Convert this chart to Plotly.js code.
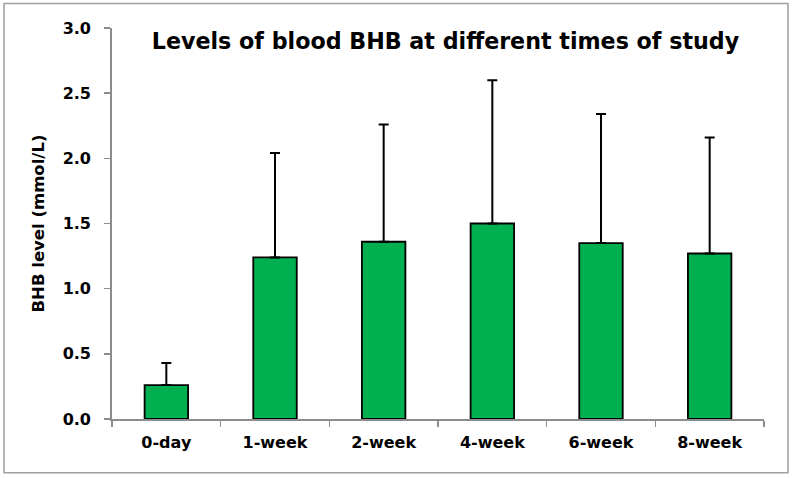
<!DOCTYPE html>
<html>
<head>
<meta charset="utf-8">
<script src="https://cdn.plot.ly/plotly-3.0.1.min.js"></script>
<style>
  html, body { margin: 0; padding: 0; background: #fff; }
  #chart { width: 792px; height: 478px; }
</style>
</head>
<body>
<div id="chart"></div>
<script>
const categories = ["0-day", "1-week", "2-week", "4-week", "6-week", "8-week"];
const meanBHB = [0.26, 1.24, 1.36, 1.50, 1.35, 1.27];
const sdBHB = [0.17, 0.80, 0.90, 1.10, 0.99, 0.89];
const yTickVals = [0, 0.5, 1.0, 1.5, 2.0, 2.5, 3.0];
const yTickText = ["0.0", "0.5", "1.0", "1.5", "2.0", "2.5", "3.0"];

const FONT = "'DejaVu Sans', 'Open Sans', sans-serif";

const trace = {
  type: "bar",
  x: categories,
  y: meanBHB,
  width: 0.4,
  marker: { color: "#00B050", line: { color: "#000000", width: 1.8 } },
  error_y: {
    type: "data",
    symmetric: false,
    array: sdBHB,
    arrayminus: sdBHB.map(() => 0),
    color: "#000000",
    thickness: 2,
    width: 5
  },
  hoverinfo: "x+y"
};

const W = 792, H = 478;
const mL = 112, mR = 28, mT = 28, mB = 58.7;
const pw = W - mL - mR, ph = H - mT - mB;
function px2x(p) { return (p - mL) / pw; }
function py2y(p) { return (H - mB - p) / ph; }

const layout = {
  width: W,
  height: H,
  margin: { l: mL, r: mR, t: mT, b: mB, pad: 0 },
  paper_bgcolor: "#ffffff",
  plot_bgcolor: "#ffffff",
  showlegend: false,
  font: { family: FONT, color: "#000000" },
  title: {
    text: "<b>Levels of blood BHB at different times of study</b>",
    font: { family: FONT, size: 22.2, color: "#000000" },
    x: px2x(445.5), xref: "paper", xanchor: "center",
    y: py2y(41), yref: "paper", yanchor: "middle"
  },
  xaxis: {
    type: "category",
    range: [-0.5, 5.5],
    showline: true,
    linecolor: "#8c8c8c",
    linewidth: 1.8,
    ticks: "outside",
    tickson: "boundaries",
    ticklen: 6,
    tickwidth: 1.5,
    tickcolor: "#8c8c8c",
    showgrid: false,
    zeroline: false,
    tickfont: { family: FONT, size: 16, color: "#000000", weight: "bold" },
    ticklabelstandoff: 8,
    fixedrange: true
  },
  yaxis: {
    range: [0, 3],
    tickvals: yTickVals,
    ticktext: yTickText,
    showline: true,
    linecolor: "#8c8c8c",
    linewidth: 1.8,
    ticks: "outside",
    ticklen: 6,
    tickwidth: 1.5,
    tickcolor: "#8c8c8c",
    showgrid: false,
    zeroline: false,
    tickfont: { family: FONT, size: 16, color: "#000000", weight: "bold" },
    ticklabelstandoff: 10,
    title: {
      text: "<b>BHB level (mmol/L)</b>",
      font: { family: FONT, size: 16.5, color: "#000000" },
      standoff: 14
    },
    fixedrange: true
  },
  shapes: [
    {
      type: "rect", xref: "paper", yref: "paper",
      x0: px2x(4), x1: px2x(788), y0: py2y(473), y1: py2y(3.5),
      line: { color: "#a0a0a0", width: 1.5 }, fillcolor: "rgba(0,0,0,0)", layer: "below"
    }
  ]
};

Plotly.newPlot("chart", [trace], layout, { displayModeBar: false, staticPlot: true });
</script>
</body>
</html>
